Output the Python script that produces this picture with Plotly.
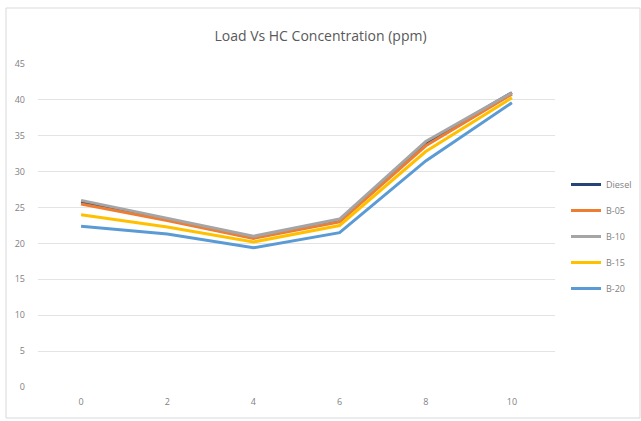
import plotly.graph_objects as go

loads = ["0", "2", "4", "6", "8", "10"]
diesel = [25.8, 23.3, 20.8, 23.2, 34.0, 41.0]
b05 = [25.5, 23.2, 20.7, 23.0, 33.6, 40.8]
b10 = [26.0, 23.5, 21.0, 23.4, 34.2, 41.0]
b15 = [24.0, 22.3, 20.2, 22.5, 32.8, 40.3]
b20 = [22.4, 21.3, 19.4, 21.5, 31.5, 39.6]
y_ticks = [0, 5, 10, 15, 20, 25, 30, 35, 40, 45]

series = [
    ("Diesel", diesel, "#264478"),
    ("B-05", b05, "#ED7D31"),
    ("B-10", b10, "#A5A5A5"),
    ("B-15", b15, "#FFC000"),
    ("B-20", b20, "#5B9BD5"),
]

fig = go.Figure()
for name, vals, col in series:
    fig.add_trace(go.Scatter(x=loads, y=vals, name=name, mode="lines",
                             legendgroup=name,
                             line=dict(color=col, width=3)))

L, R, T, B = 38, 86, 64, 34
W, H = 641, 421
pw, ph = W - L - R, H - T - B

fig.update_layout(
    width=W, height=H,
    margin=dict(l=L, r=R, t=T, b=B, autoexpand=False),
    paper_bgcolor="white", plot_bgcolor="white",
    font=dict(family="Open Sans, sans-serif", color="#7f7f7f", size=9),
    title=dict(text="Load Vs HC Concentration (ppm)", x=0.5, xanchor="center",
               y=1 - 36 / H, yanchor="middle",
               font=dict(size=14, color="#595959")),
    legend=dict(x=(566 - L) / pw, xanchor="left", y=(387 - 170) / ph, yanchor="top",
                font=dict(size=9, color="#7f7f7f"), tracegroupgap=7,
                itemwidth=30, bgcolor="rgba(0,0,0,0)"),
    showlegend=True,
    xaxis=dict(type="category", categoryorder="array", categoryarray=loads,
               range=[-0.5, 5.5],
               showgrid=False, zeroline=False, showline=False, ticks="",
               ticklabelstandoff=8,
               tickfont=dict(size=9, color="#7f7f7f")),
    yaxis=dict(range=[0, 45], tickvals=y_ticks, showgrid=True, gridcolor="#e3e3e3",
               gridwidth=1, zeroline=False, showline=False, ticks="",
               ticklabelstandoff=12,
               tickfont=dict(size=9, color="#7f7f7f")),
    shapes=[dict(type="rect", xref="paper", yref="paper",
                 x0=(6 - L) / pw, x1=(640 - L) / pw,
                 y0=(387 - 418) / ph, y1=(387 - 8) / ph,
                 line=dict(color="#d9d9d9", width=1), layer="below")],
)

fig.write_html("out.html")
